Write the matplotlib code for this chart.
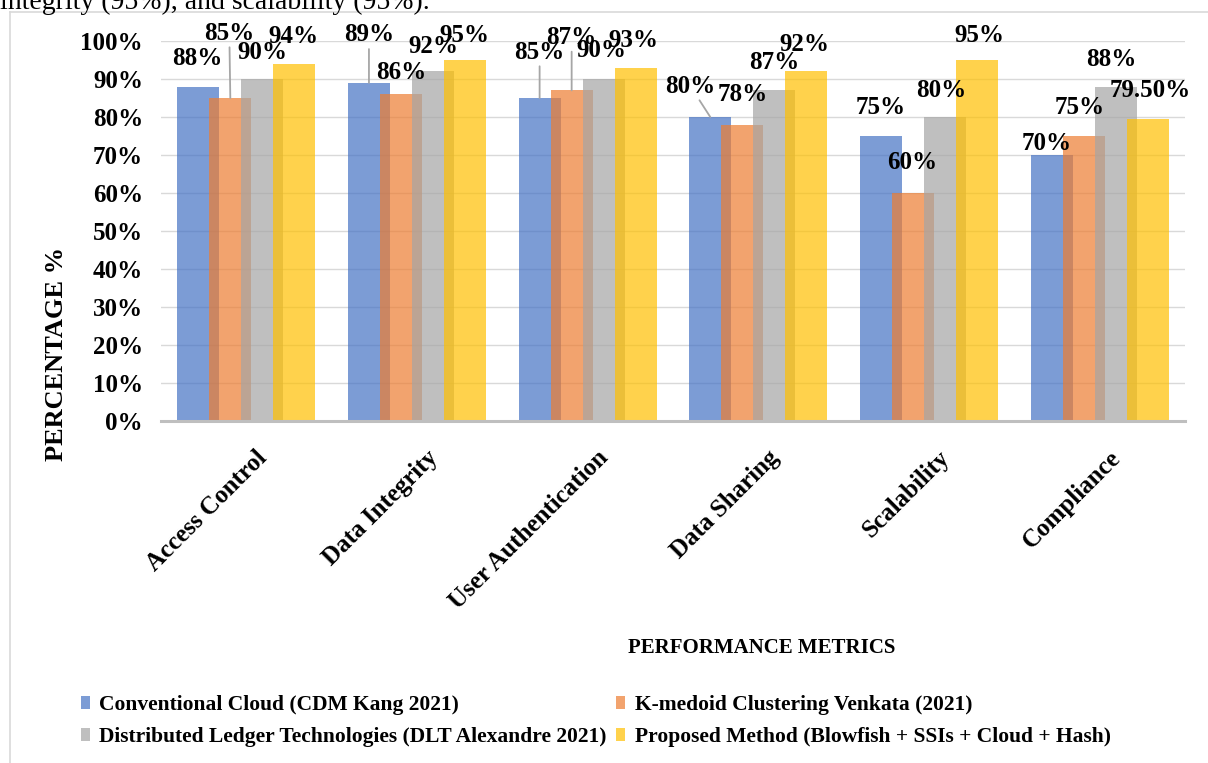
import matplotlib
matplotlib.use("Agg")
import matplotlib.pyplot as plt
import matplotlib.transforms as mtransforms
from matplotlib.patches import Patch
from matplotlib.ticker import FuncFormatter
from matplotlib.lines import Line2D

# ---- data -------------------------------------------------------------
categories = ["Access Control", "Data Integrity", "User Authentication",
              "Data Sharing", "Scalability", "Compliance"]
series_names = ["Conventional Cloud (CDM Kang 2021)",
                "K-medoid Clustering Venkata (2021)",
                "Distributed Ledger Technologies (DLT Alexandre 2021)",
                "Proposed Method (Blowfish + SSIs + Cloud + Hash)"]
conventional = [88, 89, 85, 80, 75, 70]
kmedoid = [85, 86, 87, 78, 60, 75]
dlt = [90, 92, 90, 87, 80, 88]
proposed = [94, 95, 93, 92, 95, 79.5]
y_ticks = list(range(0, 101, 10))

# ---- styling / layout ---------------------------------------------------
colors = ["#4472C4", "#ED7D31", "#A5A5A5", "#FFC000"]
BAR_ALPHA = 0.7
BAR_W = 0.246
BAR_STEP = 0.1877
FONT = "Liberation Serif"

# label offsets (pixels from bar-top centre) and whether a leader line is drawn
label_layout = [
    [(-1, 28, False), (0, 48, True), (0, 46, True), (-20, 31, True), (0, 29, False), (-5, 12, False)],
    [(-1, 65, True), (0, 22, False), (0, 53, True), (0, 30, False), (-1, 31, False), (-4, 29, False)],
    [(0, 27, False), (0, 25, False), (-2, 29, False), (0, 28, False), (-4, 27, False), (-4, 27, False)],
    [(-1, 27, False), (-1, 25, False), (-2, 27, False), (-2, 27, False), (2, 25, False), (3, 28, False)],
]

W, H = 1208, 763
fig = plt.figure(figsize=(W / 100, H / 100), dpi=100)
fig.patch.set_facecolor("white")

ax_left, ax_right, ax_top, ax_bottom = 161, 1185, 41, 421
ax = fig.add_axes([ax_left / W, 1 - ax_bottom / H,
                   (ax_right - ax_left) / W, (ax_bottom - ax_top) / H])

all_series = [conventional, kmedoid, dlt, proposed]
n = len(all_series)
group_w = (n - 1) * BAR_STEP + BAR_W
xs = list(range(len(categories)))

for i, (vals, col) in enumerate(zip(all_series, colors)):
    pos = [x - group_w / 2 + BAR_W / 2 + i * BAR_STEP for x in xs]
    ax.bar(pos, vals, width=BAR_W, color=col, alpha=BAR_ALPHA,
           linewidth=0, zorder=2 + i)
    for j, (px, v) in enumerate(zip(pos, vals)):
        dx, dy, leader = label_layout[i][j]
        txt = f"{v:.2f}%" if v != int(v) else f"{v:.0f}%"
        arrow = None
        if leader:
            arrow = dict(arrowstyle="-", color="#A6A6A6", lw=1.3,
                         shrinkA=0, shrinkB=0)
        ax.annotate(txt, xy=(px, v), xytext=(dx, dy),
                    textcoords="offset pixels", ha="center", va="center",
                    fontsize=18, fontweight="bold", family=FONT,
                    color="black", arrowprops=arrow, zorder=10)

ax.set_xlim(-0.5, len(categories) - 0.5)
ax.set_ylim(0, 100)
ax.set_yticks(y_ticks)
ax.yaxis.set_major_formatter(FuncFormatter(lambda v, p: f"{v:.0f}%"))
ax.grid(axis="y", color="#D9D9D9", linewidth=1.0, zorder=0)
ax.set_axisbelow(True)
for s in ["top", "right", "left"]:
    ax.spines[s].set_visible(False)
ax.spines["bottom"].set_color("#BFBFBF")
ax.spines["bottom"].set_linewidth(2.2)
ax.spines["bottom"].set_zorder(20)
ax.tick_params(axis="both", length=0)
ax.tick_params(axis="y", pad=13)

for lab in ax.get_yticklabels():
    lab.set_fontsize(18)
    lab.set_fontweight("bold")
    lab.set_family(FONT)

ax.set_xticks(xs)
ax.set_xticklabels(categories, rotation=45, ha="right", va="center",
                   rotation_mode="anchor", fontsize=18, fontweight="bold",
                   family=FONT)
ax.tick_params(axis="x", pad=24)
shift = mtransforms.ScaledTranslation(17 / 100, 0, fig.dpi_scale_trans)
for lab in ax.get_xticklabels():
    lab.set_transform(lab.get_transform() + shift)

ax.set_ylabel("PERCENTAGE %", fontsize=19, fontweight="bold", family=FONT)
ax.yaxis.set_label_coords(68 / W, 1 - 354 / H, transform=fig.transFigure)

fig.text(762 / W, 1 - 648 / H, "PERFORMANCE METRICS", ha="center",
         va="center", fontsize=15, fontweight="bold", family=FONT)

# legend (row-major order: two entries per row)
handles = [Patch(facecolor=c, alpha=BAR_ALPHA, linewidth=0) for c in colors]
order = [0, 2, 1, 3]
leg = fig.legend([handles[k] for k in order], [series_names[k] for k in order],
                 ncol=2, loc="upper left",
                 bbox_to_anchor=(81 / W, 1 - 695 / H),
                 frameon=False, handlelength=0.4, handleheight=0.55,
                 handletextpad=0.45, columnspacing=0.45, labelspacing=0.55,
                 borderpad=0, borderaxespad=0,
                 prop=dict(family=FONT, weight="bold", size=15.5))

# outer chart frame
frame_col = "#D9D9D9"
fig.add_artist(Line2D([10 / W, 1], [1 - 12 / H, 1 - 12 / H],
                      transform=fig.transFigure, color=frame_col, lw=1.2))
fig.add_artist(Line2D([10 / W, 10 / W], [0, 1 - 12 / H],
                      transform=fig.transFigure, color=frame_col, lw=1.2))

# running text of the page above the figure
fig.text(0 / W, 1 - 9 / H, "integrity (95%), and scalability (95%).",
         ha="left", va="baseline", fontsize=20, family=FONT)

fig.savefig("out.png", dpi=100, facecolor="white")
